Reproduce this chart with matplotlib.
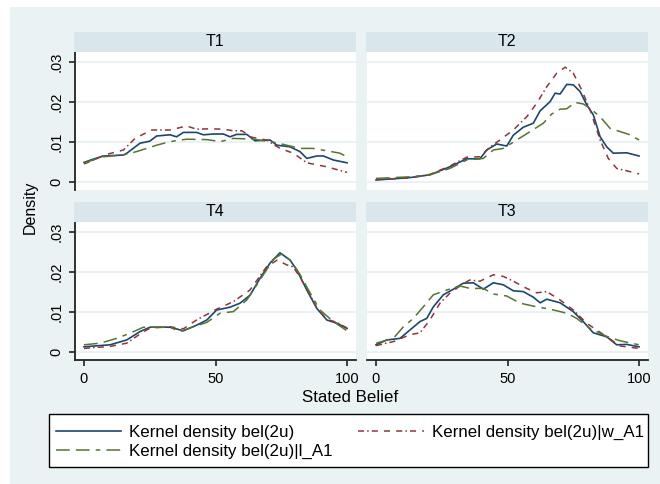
import matplotlib
matplotlib.use("Agg")
import matplotlib.pyplot as plt
from matplotlib.patches import Rectangle

plt.rcParams['font.family'] = ['Liberation Sans', 'DejaVu Sans']

# Stata s2color colours
NAVY = '#1a476f'
MAROON = '#90353b'
GREEN = '#55752f'
BG = '#eaf2f3'
STRIP = '#d9e6eb'
FS = 12.2      # titles, legend
FS_TICK = 10.5

labels = ['Kernel density bel(2u)', 'Kernel density bel(2u)|w_A1',
          'Kernel density bel(2u)|l_A1']

# T1
t1_all_x = [0, 3.5, 7.3, 15, 16.3, 21.3, 25, 27.6, 32.7, 35.2, 37.8, 42.8, 45.4, 49.2, 53,
            55.5, 58, 61.9, 65, 70.7, 73.3, 78.3, 82.1, 84.7, 88.5, 91, 94.8, 100]
t1_all_y = [.0049, .0057, .0065, .00675, .0072, .0097, .0102, .0115, .0118, .0113, .0124, .0124,
            .0118, .0120, .0120, .0113, .0119, .0119, .0103, .0105, .0092, .0088, .0076, .0059,
            .0065, .0065, .0055, .0048]
t1_w_x = [0, 8.6, 15, 19.4, 25.7, 32.7, 39, 42.8, 47.9, 53, 56.8, 60, 63.7, 69.4, 74.5, 79.6,
          84.7, 92.3, 100]
t1_w_y = [.0045, .0069, .0080, .0109, .0130, .0130, .0140, .0132, .0133, .0132, .0128, .0128,
          .0112, .0105, .0084, .0072, .0048, .0038, .0024]
t1_l_x = [0, 7.3, 15, 20, 27.6, 32.7, 39, 46.7, 51.8, 56.8, 64.4, 70.7, 75.8, 82.1, 87.2, 92.3,
          97.3, 100]
t1_l_y = [.0048, .0063, .0068, .0076, .0092, .0101, .0107, .0106, .0101, .0109, .0107, .0101,
          .0094, .0084, .0084, .0078, .0072, .0063]

# T2
t2_all_x = [0, 12.9, 20.5, 28.1, 34.5, 39.5, 42.1, 45.9, 49.7, 52.2, 56, 59.8, 62.4, 66.2, 68.1,
            70, 72.5, 75, 77.6, 80.1, 82.6, 85.2, 87.7, 90.2, 95.3, 100]
t2_all_y = [.0005, .0011, .0018, .0038, .0058, .0058, .0080, .0095, .0090, .0117, .0137, .0147,
            .0178, .0201, .0222, .0220, .0244, .0243, .0226, .0193, .0168, .0113, .0088, .0072,
            .0073, .0065]
t2_w_x = [0, 12.9, 20.5, 28.1, 34.5, 39.5, 43.3, 47.1, 52.2, 57.3, 61.1, 64.9, 68.7, 71.9, 75,
          78.2, 81.4, 85.2, 88.3, 91.5, 95.3, 100]
t2_w_y = [.0006, .0010, .0019, .0040, .0062, .0063, .0087, .0105, .0130, .0163, .0197, .0238,
          .0272, .0287, .0272, .0230, .0180, .0105, .0059, .0034, .0028, .0020]
t2_l_x = [0, 12.9, 20.5, 28.1, 34.5, 40.8, 44.6, 48.4, 53.5, 58.6, 63.6, 66.8, 70, 72.5, 75.7,
          78.8, 81.4, 85.2, 89, 92.8, 96.6, 100]
t2_l_y = [.0009, .0013, .0018, .0034, .0055, .0059, .0080, .0084, .0105, .0126, .0147, .0170,
          .0182, .0183, .0199, .0195, .0184, .0163, .0134, .0126, .0118, .0105]

# T4
t4_all_x = [0, 9.9, 16.2, 21.3, 25.1, 32.7, 37.8, 42.8, 46.7, 50.4, 55.5, 59.3, 63.1, 66.9, 70.7,
            74.5, 78.3, 80.9, 84.7, 88.5, 92.3, 96.1, 100]
t4_all_y = [.0013, .0018, .0030, .0051, .0062, .0062, .0053, .0067, .0080, .0105, .0112, .0122,
            .0142, .0184, .0222, .0248, .0230, .0205, .0155, .0109, .0080, .0072, .0059]
t4_w_x = [0, 9.9, 16.2, 21.3, 25.1, 32.7, 37.8, 42.8, 50.4, 56.8, 63.1, 69.4, 73.5, 77, 79.5,
          82, 84.7, 88.5, 92.3, 96.1, 100]
t4_w_y = [.0009, .0014, .0022, .0045, .0060, .0063, .0058, .0080, .0107, .0126, .0155, .0213,
          .0230, .0218, .0213, .0188, .0158, .0110, .0082, .0074, .0060]
t4_l_x = [0, 6.1, 12.4, 17.5, 22.6, 32.7, 36.5, 41.5, 46.7, 51.7, 56.8, 61.9, 66.9, 72, 75.1,
          78.3, 82, 86, 89.7, 94.8, 100]
t4_l_y = [.0018, .0022, .0034, .0047, .0062, .0062, .0051, .0063, .0074, .0097, .0101, .0130,
          .0180, .0232, .0245, .0230, .0195, .0147, .0105, .0076, .0053]

# T3
t3_all_x = [0, 4, 9.1, 12.9, 16.7, 19.3, 21.8, 25.6, 29.4, 33.2, 37, 40.8, 44.6, 48.4, 52.2, 56,
            59.8, 62.4, 64.9, 70, 75, 78.8, 82.6, 87.7, 91.5, 95.3, 100]
t3_all_y = [.0018, .0030, .0034, .0055, .0076, .0084, .0113, .0143, .0157, .0172, .0173, .0157,
            .0173, .0168, .0153, .0151, .0137, .0123, .0132, .0123, .0101, .0076, .0048, .0038,
            .0018, .0019, .0013]
t3_w_x = [0, 6.6, 12.9, 16.7, 20.5, 24.3, 28.1, 33.2, 35.7, 39.5, 44.6, 48.4, 52.2, 57.3, 61.1,
          64.9, 70, 75, 80.1, 87.7, 92.8, 100]
t3_w_y = [.0016, .0026, .0043, .0048, .0080, .0122, .0147, .0171, .0180, .0177, .0193, .0189,
          .0177, .0159, .0148, .0151, .0130, .0105, .0072, .0038, .0015, .0009]
t3_l_x = [0, 6.6, 10.4, 14.2, 18, 21.8, 26.9, 31.9, 35.7, 40.8, 44.6, 49.7, 54.8, 61.1, 66.2,
          72.5, 76.3, 81.4, 87.7, 92.8, 100]
t3_l_y = [.0022, .0034, .0063, .0084, .0113, .0143, .0155, .0165, .0159, .0159, .0145, .0140,
          .0122, .0113, .0107, .0097, .0084, .0059, .0039, .0028, .0018]

panels = [
    ('T1', t1_all_x, t1_all_y, t1_w_x, t1_w_y, t1_l_x, t1_l_y),
    ('T2', t2_all_x, t2_all_y, t2_w_x, t2_w_y, t2_l_x, t2_l_y),
    ('T4', t4_all_x, t4_all_y, t4_w_x, t4_w_y, t4_l_x, t4_l_y),
    ('T3', t3_all_x, t3_all_y, t3_w_x, t3_w_y, t3_l_x, t3_l_y),
]

W, H = 660, 484
fig = plt.figure(figsize=(6.6, 4.84), dpi=100)
fig.patch.set_facecolor('white')
fig.patches.append(Rectangle((10 / W, 0), 1, 1 - 7 / H, transform=fig.transFigure,
                             facecolor=BG, edgecolor='none', zorder=-10))

# pixel boxes of the plot regions (left, top)
lefts = [75, 367, 75, 367]
tops = [52, 52, 222, 222]
pw, ph, sh = 281, 138, 20

red_ls = (0, (4, 2, 1, 2, 4, 4, 4, 4))
green_ls = (0, (9, 4, 9, 4, 3, 4))

handles = []
for i, (name, ax_, ay_, wx, wy, lx, ly) in enumerate(panels):
    l, t = lefts[i], tops[i]
    ax = fig.add_axes([l / W, 1 - (t + ph) / H, pw / W, ph / H])
    ax.set_facecolor('white')
    h1, = ax.plot(ax_, ay_, color=NAVY, lw=1.2, label=labels[0])
    h2, = ax.plot(wx, wy, color=MAROON, lw=1.1, linestyle=red_ls, label=labels[1])
    h3, = ax.plot(lx, ly, color=GREEN, lw=1.1, linestyle=green_ls, label=labels[2])
    handles = [h1, h3, h2]
    ax.set_xlim(-3.42, 103.4)
    ax.set_ylim(-0.002, 0.0325)
    ax.set_yticks([0, .01, .02, .03])
    ax.set_xticks([0, 50, 100])
    ax.grid(axis='y', color=BG, lw=1.5)
    ax.set_axisbelow(True)
    for s in ax.spines.values():
        s.set_visible(False)
    left_col = i in (0, 2)
    bottom_row = i in (2, 3)
    if left_col:
        ax.spines['left'].set_visible(True)
        ax.spines['left'].set_color('#222222')
        ax.spines['left'].set_linewidth(1.3)
        ax.set_yticklabels(['0', '.01', '.02', '.03'], rotation=90, va='center',
                           fontsize=FS_TICK)
        ax.tick_params(axis='y', length=4.3, width=1.2, color='#222222', pad=4)
    else:
        ax.tick_params(axis='y', length=0, labelleft=False)
    if bottom_row:
        ax.spines['bottom'].set_visible(True)
        ax.spines['bottom'].set_color('#222222')
        ax.spines['bottom'].set_linewidth(1.3)
        ax.tick_params(axis='x', length=4.3, width=1.2, color='#222222', labelsize=FS_TICK,
                       pad=4)
    else:
        ax.tick_params(axis='x', length=0, labelbottom=False)

    # strip title
    sax = fig.add_axes([(l - 1) / W, 1 - t / H, (pw + 1) / W, sh / H])
    sax.set_facecolor(STRIP)
    sax.set_xticks([])
    sax.set_yticks([])
    for s in sax.spines.values():
        s.set_visible(False)
    sax.text(0.5, 0.5, name, ha='center', va='center', fontsize=11.5, transform=sax.transAxes)

fig.text(30 / W, 1 - 207 / H, 'Density', rotation=90, ha='center', va='center', fontsize=11.5)
fig.text(350 / W, 1 - 397 / H, 'Stated Belief', ha='center', va='center', fontsize=FS)

# legend box
fig.patches.append(Rectangle((49 / W, 1 - 467 / H), 599 / W, 53 / H, transform=fig.transFigure,
                             facecolor='white', edgecolor='black', lw=1.0, zorder=1))
leg = fig.legend(handles, [labels[0], labels[2], labels[1]], ncol=2,
                 bbox_to_anchor=(54 / W, 1 - 442 / H), loc='center left',
                 fontsize=FS, frameon=False,
                 handlelength=3.85, handletextpad=0.47, borderaxespad=0, borderpad=0.1,
                 labelspacing=0.27, columnspacing=1.54)
leg.set_zorder(2)

fig.savefig('out.png', dpi=100, facecolor=fig.get_facecolor())
